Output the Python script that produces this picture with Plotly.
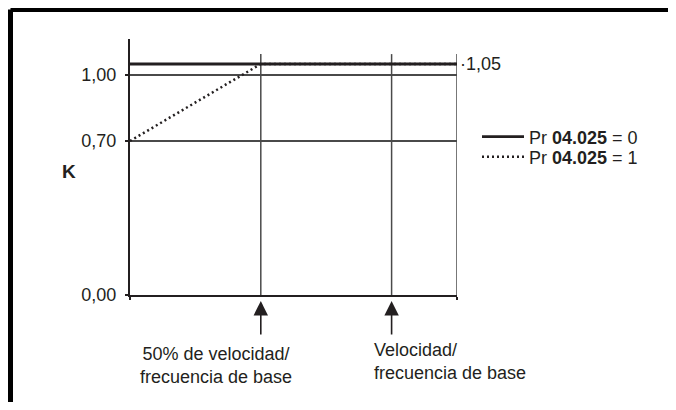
import plotly.graph_objects as go

# speed as a fraction of base speed/frequency, K factor on the y axis
speed_pr0 = [0.0, 1.25]
k_pr0 = [1.05, 1.05]
speed_pr1 = [0.0, 0.5, 1.25]
k_pr1 = [0.70, 1.05, 1.05]

k_ticks = [0.0, 0.70, 1.00]
k_tick_text = ['0,00', '0,70', '1,00']
speed_marks = [0.5, 1.0, 1.25]
mark_labels = ['50% de velocidad/<br>frecuencia de base', 'Velocidad/<br>frecuencia de base']
legend_names = ['Pr <b>04.025</b> = 0', 'Pr <b>04.025</b> = 1']

# page body has an 8px margin, so the figure is kept inside the window
OFF = 8
W, H = 676 - 2 * OFF, 410 - 2 * OFF
H_EFF = H - 10   # rendered vertical extent came out ~10px short
INK = '#231f20'
GRID = '#4a4a4a'
FONT = 'Liberation Sans, Arial, sans-serif'

def px(x):
    return (x - OFF) / W

def py(y):
    return 1 - (y - OFF) / H_EFF

fig = go.Figure()
fig.add_trace(go.Scatter(
    x = speed_pr0, y = k_pr0, mode = 'lines', name = legend_names[0],
    line = dict(color=INK, width=2.8), cliponaxis = False, legend = 'legend'
))
fig.add_trace(go.Scatter(
    x = speed_pr1, y = k_pr1, mode = 'lines', name = legend_names[1],
    line = dict(color=INK, width=2.5, dash='2px,3px'), cliponaxis = False, legend = 'legend2'
))

# vertical guide lines at the marked speeds
for s in speed_marks:
    fig.add_shape(type='line', xref='x', yref='y', x0=s, x1=s, y0=0, y1=1.095,
                  line=dict(color=GRID, width=1.5), layer='below')

# arrows under the x axis + labels
for s in speed_marks[:2]:
    fig.add_annotation(x=s, y=0, xref='x', yref='y', text='', showarrow=True,
                       ax=0, ay=41, arrowhead=2, arrowsize=1.8, arrowwidth=1.6,
                       arrowcolor=INK, standoff=6)
fig.add_annotation(x=px(216), y=py(365), xref='paper', yref='paper',
                   text=mark_labels[0], showarrow=False, align='center',
                   xanchor='center', yanchor='middle',
                   font=dict(size=18, color=INK, family=FONT))
fig.add_annotation(x=px(372), y=py(361), xref='paper', yref='paper',
                   text=mark_labels[1], showarrow=False, align='left',
                   xanchor='left', yanchor='middle',
                   font=dict(size=18, color=INK, family=FONT))

# 1,05 label at end of the curves
fig.add_annotation(x=speed_pr1[-1], y=k_pr1[-1], xref='x', yref='y',
                   text='\u00b71,05', showarrow=False, xanchor='left', yanchor='middle',
                   xshift=1, font=dict(size=18, color=INK, family=FONT))

# K axis title
fig.add_annotation(x=px(60), y=py(172), xref='paper', yref='paper',
                   text='<b>K</b>', showarrow=False,
                   font=dict(size=19, color=INK, family=FONT))

# thick frame (left and top edges)
fig.add_shape(type='line', xref='paper', yref='paper', x0=px(10.5), x1=1.05,
              y0=py(9.5), y1=py(9.5), line=dict(color='black', width=5))
fig.add_shape(type='line', xref='paper', yref='paper', x0=px(10.5), x1=px(10.5),
              y0=py(9.5), y1=-0.05, line=dict(color='black', width=5))

legend_style = dict(xanchor='left', yanchor='middle', itemwidth=42,
                    bgcolor='rgba(0,0,0,0)', font=dict(size=18, color=INK, family=FONT))

fig.update_layout(
    width = W, height = H,
    margin = dict(l=0, r=0, t=0, b=0),
    paper_bgcolor = 'white', plot_bgcolor = 'white',
    font = dict(family=FONT, size=18, color=INK),
    showlegend = True,
    legend = dict(x=px(477), y=py(137), **legend_style),
    legend2 = dict(x=px(477), y=py(157), **legend_style),
    xaxis = dict(
        domain=[px(130), px(457)], range=[0, 1.25],
        showline=True, linecolor=INK, linewidth=2,
        ticks='outside', ticklen=3, tickcolor=INK, tickwidth=1.5,
        tickvals=[0, 1.25], showticklabels=False,
        showgrid=False, zeroline=False
    ),
    yaxis = dict(
        domain=[py(295), py(39)], range=[0, 256 / 220],
        showline=True, linecolor=INK, linewidth=2,
        ticks='outside', ticklen=3, tickcolor=INK, tickwidth=1.5,
        tickvals=k_ticks, ticktext=k_tick_text, ticklabelstandoff=5,
        showgrid=True, gridcolor=GRID, gridwidth=1.5, zeroline=False
    ),
)

fig.write_html('out.html')
